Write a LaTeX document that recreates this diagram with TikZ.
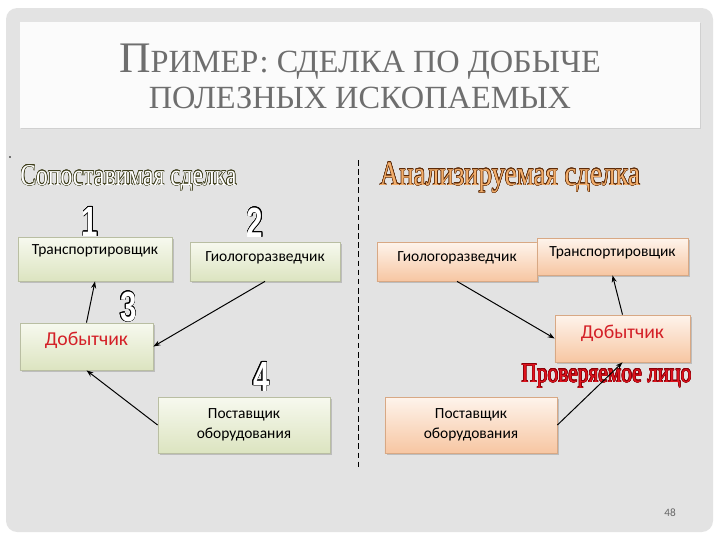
\documentclass[tikz,border=0pt]{standalone}
\usepackage{fontspec}
\setmainfont{Carlito}
\newfontfamily\titlefont{Liberation Serif}
\newfontfamily\artfont[FakeStretch=0.78]{Liberation Serif}
\newfontfamily\numfont[FakeStretch=0.7]{Liberation Sans}
\usepackage{xcolor}
\usepackage{contour}
\contourlength{0.32pt}
\usetikzlibrary{arrows.meta,shadows}

\definecolor{panelgray}{HTML}{E3E3E3}
\definecolor{titlegray}{HTML}{6E6E6E}
\definecolor{greentop}{HTML}{F7F9EF}
\definecolor{greenbot}{HTML}{DCE4C0}
\definecolor{greenline}{HTML}{B9BEA2}
\definecolor{peachtop}{HTML}{FEF4EC}
\definecolor{peachbot}{HTML}{F7C6A2}
\definecolor{peachline}{HTML}{D8A884}
\definecolor{minerred}{HTML}{D42027}
\definecolor{olivedark}{HTML}{3E3E1C}
\definecolor{artorange}{HTML}{F2AE6C}
\definecolor{artbrown}{HTML}{5C2A08}
\definecolor{artred}{HTML}{E0141E}
\definecolor{artdarkred}{HTML}{8A0008}

\tikzset{
  box/.style={draw=greenline, line width=0.5pt, top color=greentop, bottom color=greenbot,
    inner sep=0pt, drop shadow={shadow xshift=1.2pt, shadow yshift=-1.2pt, fill=black!40, opacity=0.5},
    font=\fontsize{11}{14}\selectfont},
  greenbox/.style={box},
  peachbox/.style={box, draw=peachline, top color=peachtop, bottom color=peachbot},
  minerbox/.style={font=\fontsize{14}{16}\selectfont, text=minerred},
  tpos/.style 2 args={text height=#1, text depth=#2},
  arr/.style={-{Stealth[length=5pt,width=3.6pt]}, line width=0.7pt},
  num/.style={font=\numfont\bfseries\fontsize{30}{30}\selectfont, inner sep=0pt, anchor=base},
  art/.style={font=\artfont\fontsize{21.5}{22}\selectfont, inner sep=0pt, anchor=base},
}

\begin{document}
\begin{tikzpicture}[x=0.025cm, y=-0.025cm]
    \useasboundingbox (0,0) rectangle (720,540);
    % slide background
    \fill[white] (0,0) rectangle (720,540);
    \fill[panelgray, rounded corners=8pt] (6,8) rectangle (713,532);
    \fill[white!97!gray, drop shadow={shadow xshift=1pt, shadow yshift=-1pt, fill=black!25, opacity=0.5}] (20,22) rectangle (700,128);

    % title
    \node[anchor=base, inner sep=0pt, text=titlegray, font=\titlefont] (T1) at (360,72)
        {\fontsize{31}{31}\selectfont П\fontsize{23}{24}\selectfont РИМЕР: СДЕЛКА ПО ДОБЫЧЕ};
    \node[anchor=base, inner sep=0pt, text=titlegray, font=\titlefont\fontsize{23}{24}\selectfont] (T2) at (360,108)
        {ПОЛЕЗНЫХ ИСКОПАЕМЫХ};

    \fill (10,157) circle (0.8);

    % divider
    \coordinate (divtop) at (358,160);
    \coordinate (divbot) at (358,470);
    \draw[dashed, dash pattern=on 4pt off 2.5pt, line width=0.6pt] (divtop) -- (divbot);

    % headings
    \node[art] (HL) at (128.5,185) {\contour{olivedark}{\textcolor{white}{Сопоставимая сделка}}};
    \node[art, font=\artfont\fontsize{24.5}{25}\selectfont] (HR) at (510,185) {\contour{artbrown}{\textcolor{artorange}{Анализируемая сделка}}};
    \node[art, font=\artfont\fontsize{19.5}{20}\selectfont] (HC) at (606.5,382) {\contour{artdarkred}{\textcolor{artred}{Проверяемое лицо}}};

    % numbers
    \node[num] (N1) at (90,236) {\contour{black}{\textcolor{white}{1}}};
    \node[num] (N2) at (255,237) {\contour{black}{\textcolor{white}{2}}};
    \node[num] (N3) at (128.5,321) {\contour{black}{\textcolor{white}{3}}};
    \node[num] (N4) at (261.5,391) {\contour{black}{\textcolor{white}{4}}};

    % comparable deal
    \node[greenbox, minimum width=3.85cm, minimum height=1.1cm, tpos={12.2pt}{19pt}] (TL) at (95,259) {Транспортировщик};
    \node[greenbox, minimum width=3.75cm, minimum height=0.975cm, tpos={13.6pt}{14pt}] (GL) at (265,261.5) {Гиологоразведчик};
    \node[greenbox, minerbox, minimum width=3.325cm, minimum height=1.175cm, tpos={16pt}{17.3pt}] (DL) at (86.5,346.5) {Добытчик};
    \node[greenbox, minimum width=4.3cm, minimum height=1.4cm, align=center] (PL) at (244,425) {Поставщик\\оборудования};

    % analysed deal
    \node[peachbox, minimum width=4cm, minimum height=0.975cm, tpos={13.6pt}{14pt}] (GR) at (457,261.5) {Гиологоразведчик};
    \node[peachbox, minimum width=3.775cm, minimum height=0.925cm, tpos={12.9pt}{13.3pt}] (TR) at (612.5,256.5) {Транспортировщик};
    \node[peachbox, minerbox, minimum width=3.375cm, minimum height=1.175cm, tpos={16.8pt}{16.5pt}] (DR) at (622.5,338.5) {Добытчик};
    \node[peachbox, minimum width=4.3cm, minimum height=1.4cm, align=center] (PR) at (471,425) {Поставщик\\оборудования};

    \draw[arr] (DL.north) -- (TL.south);
    \draw[arr] (GL.south) -- (DL.east);
    \draw[arr] (PL.west) -- (DL.south);

    \draw[arr] (GR.south) -- (DR.west);
    \draw[arr] (DR.north) -- (TR.south);
    \draw[arr] (PR.east) -- (DR.south);

    \node[text=black!60, font=\fontsize{8}{9}\selectfont] (PG) at (670,513) {48};
\end{tikzpicture}
\end{document}
